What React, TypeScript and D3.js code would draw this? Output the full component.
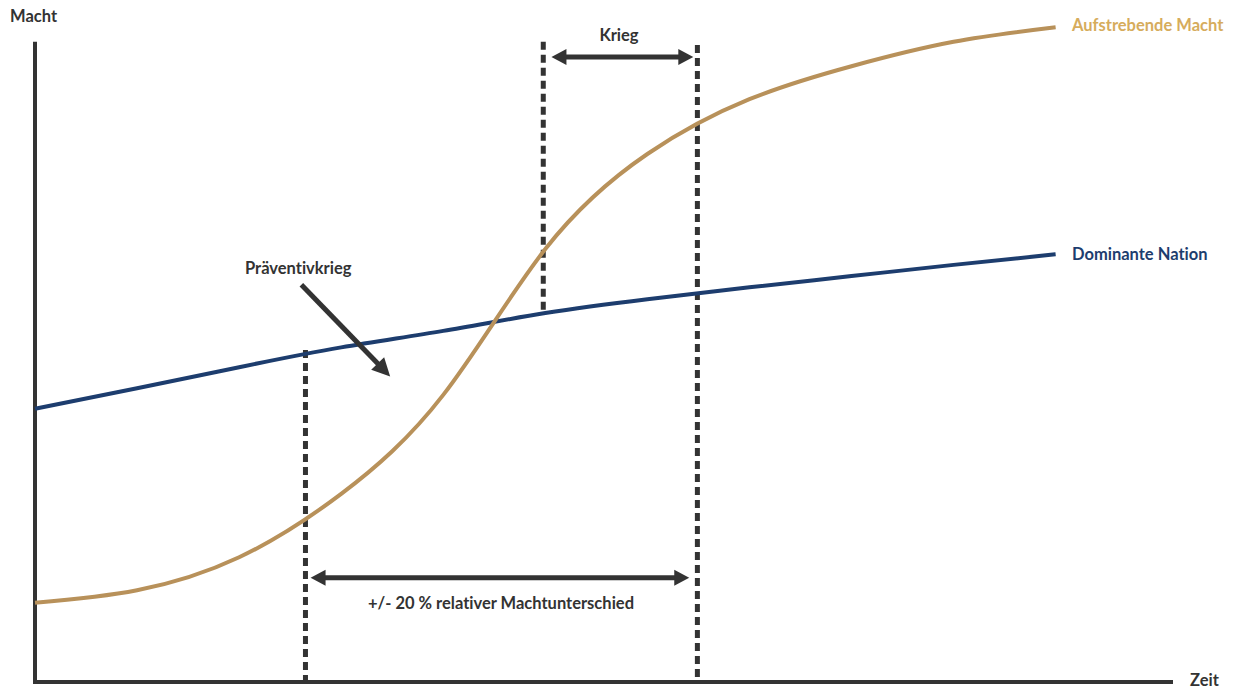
import React from "react";
import * as d3 from "d3";

// Zeit (x) and Macht (y) values
const time = [0, 10, 20, 30, 40, 50, 60, 70, 80, 90, 100];
const dominant = [41.4, 44.5, 47.7, 50.7, 53.2, 55.9, 58.0, 59.8, 61.5, 63.2, 64.8];
const rising = [12.0, 13.9, 18.9, 28.5, 43.5, 65.6, 80.0, 88.3, 93.3, 97.0, 99.2];

// vertical dashed markers: time, from value, to value
const markers = [
  { t: 26.5, from: 0, to: 50.3 },
  { t: 49.8, from: 55.6, to: 97 },
  { t: 64.9, from: 0, to: 96.5 },
];

// double-headed arrows
const krieg = { t0: 50.6, t1: 64.5, v: 94.7 };
const spread = { t0: 27, t1: 64.1, v: 15.8 };
// single arrow for Präventivkrieg
const praev = { t0: 26.1, v0: 60.2, t1: 34.8, v1: 46.3 };

const W = 1233;
const H = 690;
const FONT = "Lato, 'Open Sans', sans-serif";
const DARK = "#333333";
const BLUE = "#1d3d6e";
const GOLD = "#b8915a";
const GOLD_TXT = "#d6ac5c";

const x = d3.scaleLinear().domain([0, 111.5]).range([35, 1173]);
const y = d3.scaleLinear().domain([0, 100]).range([682, 22]);

const line = d3
  .line<number>()
  .x((_, i) => x(time[i]))
  .y((d) => y(d))
  .curve(d3.curveNatural);

// triangle head pointing along (dx, dy) ending at (px, py)
function head(px: number, py: number, dx: number, dy: number, len = 15, half = 8) {
  const l = Math.hypot(dx, dy);
  const ux = dx / l;
  const uy = dy / l;
  const bx = px - ux * len;
  const by = py - uy * len;
  return `M${px},${py}L${bx - uy * half},${by + ux * half}L${bx + uy * half},${by - ux * half}Z`;
}

function DoubleArrow({ t0, t1, v }: { t0: number; t1: number; v: number }) {
  const x0 = x(t0);
  const x1 = x(t1);
  const yy = y(v);
  return (
    <g fill={DARK} stroke="none">
      <line x1={x0 + 10} x2={x1 - 10} y1={yy} y2={yy} stroke={DARK} strokeWidth={5} />
      <path d={head(x0, yy, -1, 0)} />
      <path d={head(x1, yy, 1, 0)} />
    </g>
  );
}

export default function App() {
  const px0 = x(praev.t0);
  const py0 = y(praev.v0);
  const px1 = x(praev.t1);
  const py1 = y(praev.v1);
  const dx = px1 - px0;
  const dy = py1 - py0;
  const l = Math.hypot(dx, dy);

  return (
    <div style={{ position: "fixed", left: 0, top: 0 }}>
      <svg
        width={W}
        height={H}
        style={{ display: "block", background: "#fff", fontVariantLigatures: "none" }}
        fontFamily={FONT}
      >
        {/* axes */}
        <path
          d={`M${x(0)},${y(97)}V${y(0)}H${x(111.5)}`}
          fill="none"
          stroke={DARK}
          strokeWidth={4}
        />

        {/* dashed markers */}
        {markers.map((m, i) => (
          <line
            key={i}
            x1={x(m.t)}
            x2={x(m.t)}
            y1={y(m.to)}
            y2={y(m.from)}
            stroke={DARK}
            strokeWidth={5}
            strokeDasharray="8 5"
          />
        ))}

        {/* series */}
        <path d={line(dominant) ?? ""} fill="none" stroke={BLUE} strokeWidth={4} />
        <path d={line(rising) ?? ""} fill="none" stroke={GOLD} strokeWidth={4} />

        {/* arrows */}
        <DoubleArrow {...krieg} />
        <DoubleArrow {...spread} />
        <line
          x1={px0}
          y1={py0}
          x2={px1 - (dx / l) * 12}
          y2={py1 - (dy / l) * 12}
          stroke={DARK}
          strokeWidth={5}
        />
        <path d={head(px1, py1, dx, dy, 18, 9)} fill={DARK} />

        {/* texts */}
        <g fontWeight={700} fontSize={16.5} fill={DARK}>
          <text x={10} y={22}>Macht</text>
          <text x={1190} y={686}>Zeit</text>
          <text x={619} y={41} textAnchor="middle">Krieg</text>
          <text x={245} y={274}>Präventivkrieg</text>
          <text x={501} y={609} textAnchor="middle">+/- 20 % relativer Machtunterschied</text>
          <text x={1072} y={31} fill={GOLD_TXT}>Aufstrebende Macht</text>
          <text x={1072} y={260} fill={BLUE}>Dominante Nation</text>
        </g>
      </svg>
    </div>
  );
}
